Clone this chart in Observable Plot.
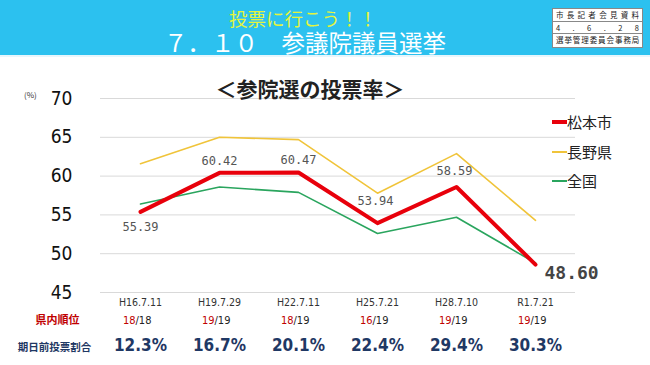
<!DOCTYPE html>
<html><head><meta charset="utf-8">
<script src="https://cdn.jsdelivr.net/npm/d3@7"></script>
<script src="https://cdn.jsdelivr.net/npm/@observablehq/plot@0.6"></script>
<style>
html,body{margin:0;padding:0;background:#fff;width:650px;height:365px;overflow:hidden;}
body{font-family:"Noto Sans CJK JP","Noto Sans",sans-serif;}
#header{position:relative;height:55px;background:#2cc1ef;border-bottom:2px solid #e8f6fc;}
#h1{position:absolute;left:0;width:606px;top:9px;text-align:center;color:#e4f43c;font-size:18.5px;line-height:18px;}
#h2{position:absolute;left:0;width:610px;top:31px;text-align:center;color:#fff;font-size:23.5px;line-height:23px;}
#box{position:absolute;left:552px;top:8px;width:89px;height:38px;background:#fff;border:1px solid #888;font-size:7.5px;line-height:12.6px;color:#222;}
#box div{height:12.6px;border-bottom:1px solid #888;text-align:justify;text-align-last:justify;padding:0 3px;box-sizing:border-box;white-space:nowrap;}
#box div:last-child{border-bottom:none;letter-spacing:-0.3px;}
#wrap{position:relative;}
#title{position:absolute;left:0;width:620px;top:18px;text-align:center;font-size:21px;font-weight:bold;color:#222;line-height:26px;}
#pct{position:absolute;left:24px;top:32px;font-size:8px;color:#333;}
#legend{position:absolute;left:552px;top:55px;font-size:15px;color:#222;}
.li{position:relative;height:29.5px;line-height:20px;width:80px;}
.li span.sw{position:absolute;left:0;top:10px;width:15px;}
.li span.tx{position:absolute;left:15px;top:0;white-space:nowrap;}
</style></head>
<body>
<div id="header">
  <div id="h1">投票に行こう！！</div>
  <div id="h2">７．１０　参議院議員選挙</div>
  <div id="box"><div>市長記者会見資料</div><div>4 . 6 . 2 8</div><div>選挙管理委員会事務局</div></div>
</div>
<div id="wrap"><div id="chart"></div>
  <div id="title">＜参院選の投票率＞</div>
  <div id="pct">(%)</div>
  <div id="legend"></div>
</div>
<script>
const dates = ["H16.7.11","H19.7.29","H22.7.11","H25.7.21","H28.7.10","R1.7.21"];
const matsumoto = [55.39, 60.42, 60.47, 53.94, 58.59, 48.60];
const nagano = [61.6, 65.0, 64.7, 57.8, 62.9, 54.3];
const zenkoku = [56.4, 58.6, 57.9, 52.6, 54.7, 48.8];
const rankPos = ["18","19","18","16","19","19"];
const rankTotal = ["18","19","19","19","19","19"];
const earlyShare = ["12.3%","16.7%","20.1%","22.4%","29.4%","30.3%"];
const yTicks = [45,50,55,60,65,70];
const seriesNames = ["松本市","長野県","全国"];
const seriesColors = ["#e8000b","#f0c43a","#2aa55e"];
const seriesWidths = [4,1.6,1.6];

const rows = [];
[matsumoto, nagano, zenkoku].forEach((arr,i)=>arr.forEach((v,j)=>rows.push({s:seriesNames[i], d:dates[j], v})));
const mRows = dates.map((d,i)=>({d, v:matsumoto[i], i}));
const labelPlace = [
  {dy:15, dx:0},
  {dy:-12, dx:0},
  {dy:-12, dx:0},
  {dy:-22, dx:-2},
  {dy:-16, dx:-2}
];
const small = mRows.slice(0,5);
const last = [mRows[5]];
const bottomRows = dates.map((d,i)=>({d, rp:rankPos[i], rt:"/"+rankTotal[i], e:earlyShare[i]}));
const numFont = '"DejaVu Sans Mono","Liberation Mono",monospace';
const condFont = '"DejaVu Sans Condensed","Liberation Sans Narrow","DejaVu Sans",sans-serif';
const jpFont = '"Noto Sans CJK JP",sans-serif';

const chart = Plot.plot({
  width:650, height:308,
  marginTop:41, marginBottom:73, marginLeft:100, marginRight:75,
  style:{background:"transparent", overflow:"visible"},
  x:{type:"point", domain:dates, padding:0.5},
  y:{domain:[45,70]},
  marks:[
    Plot.gridY(yTicks, {stroke:"#d9d9d9", strokeOpacity:1, strokeWidth:1}),
    Plot.axisY(yTicks, {tickSize:0, tickPadding:28, fontSize:19, fill:"#111", fontFamily:condFont, label:null}),
    Plot.axisX({tickSize:0, tickPadding:6, fontSize:10.5, fill:"#333", fontFamily:condFont, label:null}),
    ...[1,2,0].map(i=>Plot.line(rows.filter(r=>r.s===seriesNames[i]), {x:"d", y:"v", stroke:seriesColors[i], strokeWidth:seriesWidths[i]})),
    Plot.link([mRows[3], mRows[4]], {x1:"d", x2:"d", y1:"v", y2:"v", dy:-4, stroke:"#ccc", strokeWidth:1}),
    ...small.map((r,k)=>Plot.text([r], {x:"d", y:"v", text:r=>r.v.toFixed(2), dy:labelPlace[k].dy, dx:labelPlace[k].dx, fontSize:12, fill:"#555", fontFamily:numFont})),
    Plot.text(last, {x:"d", y:"v", text:r=>r.v.toFixed(2), dx:9, dy:9, textAnchor:"start", fontSize:18, fontWeight:"bold", fill:"#444", fontFamily:numFont}),
    Plot.text(bottomRows, {x:"d", text:"rp", frameAnchor:"bottom", dy:31, dx:-5, textAnchor:"end", fontSize:11, fill:"#c00000", fontFamily:condFont}),
    Plot.text(bottomRows, {x:"d", text:"rt", frameAnchor:"bottom", dy:31, dx:-5, textAnchor:"start", fontSize:11, fill:"#222", fontFamily:condFont}),
    Plot.text(bottomRows, {x:"d", text:"e", frameAnchor:"bottom", dy:58, fontSize:17, fontWeight:"bold", fill:"#1f3864", fontFamily:condFont}),
    Plot.text(["県内順位"], {frameAnchor:"bottom-left", dx:-43, dy:31, textAnchor:"middle", fontSize:11, fill:"#c00000", fontFamily:jpFont, fontWeight:"bold"}),
    Plot.text(["期日前投票割合"], {frameAnchor:"bottom-left", dx:-46, dy:58, textAnchor:"middle", fontSize:10.5, fill:"#1f3864", fontFamily:jpFont, fontWeight:"bold"})
  ]
});
document.getElementById("chart").appendChild(chart);

const leg = document.getElementById("legend");
seriesNames.forEach((n,i)=>{
  const d = document.createElement("div"); d.className="li";
  const h = i===0 ? 3.5 : 2;
  d.innerHTML = `<span class="sw" style="height:${h}px;background:${seriesColors[i]};margin-top:${-h/2}px"></span><span class="tx">${n}</span>`;
  leg.appendChild(d);
});
</script>
</body></html>
